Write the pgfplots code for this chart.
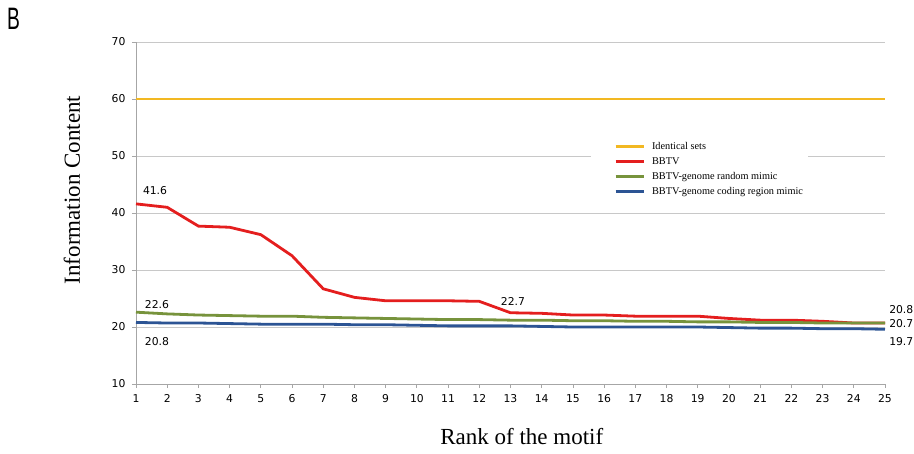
\documentclass[border=0pt]{standalone}
\usepackage{pgfplots}
\pgfplotsset{compat=1.18}
\usepackage{fontspec}
\usepackage{graphicx}
\setmainfont{Liberation Serif}
\newfontfamily\tickfont{DejaVu Sans}
\newfontfamily\bfont{Liberation Sans}
\definecolor{cyel}{HTML}{F2B822}
\definecolor{cred}{HTML}{E41E1E}
\definecolor{cgreen}{HTML}{77933C}
\definecolor{cblue}{HTML}{2C5494}
\definecolor{axgray}{HTML}{A6A6A6}
\definecolor{gridgray}{HTML}{C8C8C8}
\begin{document}
\begin{tikzpicture}
\path[use as bounding box] (-136pt,-69pt) rectangle (778pt,384pt);
\node[anchor=north west, inner sep=0pt, font=\bfont\fontsize{31}{33}\selectfont] at (-129pt,376pt) {\scalebox{0.62}[1]{B}};
\begin{axis}[
  at={(0pt,0pt)}, anchor=south west,
  scale only axis, width=749pt, height=342pt,
  xmin=1, xmax=25, ymin=10, ymax=70,
  xtick={1,...,25}, ytick={10,20,...,70},
  axis x line*=bottom, axis y line*=left,
  axis line style={draw=axgray, line width=0.8pt, -},
  ymajorgrids, major grid style={gridgray, line width=0.8pt},
  tick style={axgray, line width=0.8pt},
  tick align=outside, major tick length=4pt,
  ticklabel style={font=\tickfont\fontsize{10.8}{12}\selectfont, text=black},
  xticklabel style={yshift=-3pt},
  yticklabel style={xshift=-3pt},
  /pgf/number format/assume math mode=true,
  xlabel={Rank of the motif}, ylabel={Information Content},
  label style={font=\fontsize{23}{27}\selectfont},
  xlabel style={at={(axis description cs:0.515,-0.155)}, anchor=center},
  ylabel style={at={(axis description cs:-0.0855,0.567)}, anchor=center},
  clip=false,
  legend style={at={(0.6075,0.725)}, anchor=north west, draw=none, fill=white,
    font=\fontsize{10.3}{12.5}\selectfont, row sep=2.5pt, inner xsep=3pt, inner ysep=4pt},
  legend cell align=left,
  legend image code/.code={\path (-20pt,0pt) (33pt,0pt); \draw[#1,line width=2.4pt] (0pt,0pt) -- (28pt,0pt);},
]
\addplot[cyel, line width=2.8pt] coordinates {(1,60) (2,60) (3,60) (4,60) (5,60) (6,60) (7,60) (8,60) (9,60) (10,60) (11,60) (12,60) (13,60) (14,60) (15,60) (16,60) (17,60) (18,60) (19,60) (20,60) (21,60) (22,60) (23,60) (24,60) (25,60)};
\addlegendentry{Identical sets}
\addplot[cred, line width=2.8pt] coordinates {(1,41.6) (2,41.0) (3,37.7) (4,37.5) (5,36.2) (6,32.5) (7,26.7) (8,25.2) (9,24.6) (10,24.6) (11,24.6) (12,24.5) (13,22.5) (14,22.4) (15,22.1) (16,22.1) (17,21.9) (18,21.9) (19,21.9) (20,21.5) (21,21.2) (22,21.2) (23,21.0) (24,20.7) (25,20.7)};
\addlegendentry{BBTV}
\addplot[cgreen, line width=2.8pt] coordinates {(1,22.6) (2,22.3) (3,22.1) (4,22.0) (5,21.9) (6,21.9) (7,21.7) (8,21.6) (9,21.5) (10,21.4) (11,21.3) (12,21.3) (13,21.2) (14,21.2) (15,21.1) (16,21.1) (17,21.0) (18,21.0) (19,20.9) (20,20.9) (21,20.8) (22,20.8) (23,20.7) (24,20.7) (25,20.7)};
\addlegendentry{BBTV-genome random mimic}
\addplot[cblue, line width=2.8pt] coordinates {(1,20.8) (2,20.7) (3,20.7) (4,20.6) (5,20.5) (6,20.5) (7,20.5) (8,20.4) (9,20.4) (10,20.3) (11,20.2) (12,20.2) (13,20.2) (14,20.1) (15,20.0) (16,20.0) (17,20.0) (18,20.0) (19,20.0) (20,19.9) (21,19.8) (22,19.8) (23,19.7) (24,19.7) (25,19.6)};
\addlegendentry{BBTV-genome coding region mimic}
\begin{scope}[every node/.style={font=\tickfont\fontsize{10.8}{12}\selectfont, text=black, inner sep=0pt}]
\node at (axis cs:1.61,44.0) {41.6};
\node at (axis cs:1.67,23.9) {22.6};
\node at (axis cs:1.67,17.4) {20.8};
\node at (axis cs:13.08,24.4) {22.7};
\node[anchor=west] at (axis cs:25.13,23.0) {20.8};
\node[anchor=west] at (axis cs:25.13,20.6) {20.7};
\node[anchor=west] at (axis cs:25.13,17.5) {19.7};
\end{scope}
\end{axis}
\end{tikzpicture}
\end{document}
